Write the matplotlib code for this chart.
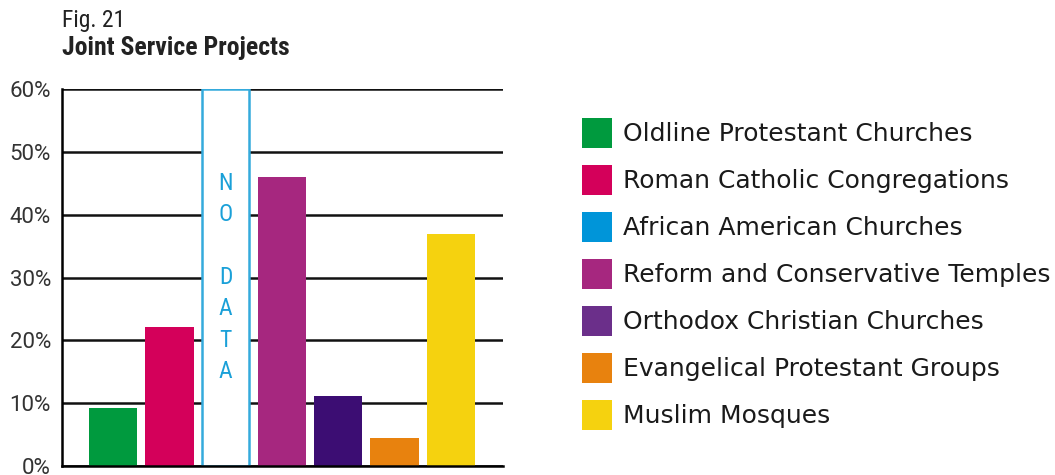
import matplotlib.pyplot as plt
from matplotlib.patches import Rectangle

groups = ['Oldline Protestant Churches', 'Roman Catholic Congregations',
          'African American Churches', 'Reform and Conservative Temples',
          'Orthodox Christian Churches', 'Evangelical Protestant Groups',
          'Muslim Mosques']
shares = [9.2, 22.2, None, 46.0, 11.2, 4.4, 37.0]   # percent, None = no data
bar_colors = ['#009a3e', '#d4005a', '#0095d9', '#a6277f', '#3c0d73', '#e8820e', '#f5d20f']
key_colors = ['#009a3e', '#d4005a', '#0095d9', '#a6277f', '#6b2f8a', '#e8820e', '#f5d20f']
yticks = [0, 10, 20, 30, 40, 50, 60]

narrow = ['Roboto Condensed', 'Liberation Sans Narrow', 'DejaVu Sans']
W, H = 1055, 475

fig = plt.figure(figsize=(W / 100, H / 100), dpi=100)
ax = fig.add_axes([62 / W, 1 - 466 / H, 441 / W, 377 / H])

for i, v in enumerate(shares):
    if v is None:
        # empty outlined column for the group with no data
        ax.bar(i, yticks[-1], width=0.84, facecolor='white', edgecolor='#34aadc',
               linewidth=1.8, zorder=3)
        y = 45
        for ch in 'NO DATA':
            if ch != ' ':
                ax.text(i, y, ch, ha='center', va='center', color='#1aa0d8',
                        fontsize=17, family=narrow, zorder=4)
            y -= 5
    else:
        ax.bar(i, v, width=0.86, color=bar_colors[i], zorder=3)

ax.set_xlim(-0.91, 6.93)
ax.set_ylim(0, 60)
ax.set_yticks(yticks)
ax.set_yticklabels([f'{t}%' for t in yticks], family=['Roboto', 'DejaVu Sans'],
                   fontsize=16, color='#333333')
ax.set_xticks([])
ax.tick_params(axis='y', length=0, pad=8)
ax.yaxis.grid(True, color='#111111', linewidth=1.8, zorder=1)
ax.set_axisbelow(True)
for s in ['top', 'right']:
    ax.spines[s].set_visible(False)
ax.spines['left'].set_linewidth(1.8)
ax.spines['bottom'].set_linewidth(1.8)
ax.spines['bottom'].set_zorder(5)

fig.text(62 / W, 1 - 27 / H, 'Fig. 21', family=narrow, fontsize=17,
         va='baseline', color='#222222')
fig.text(62 / W, 1 - 55 / H, 'Joint Service Projects', family=narrow, fontsize=18.5,
         weight='bold', va='baseline', color='#222222')

# key on the right
for k, (name, c) in enumerate(zip(groups, key_colors)):
    top = 118 + 47 * k
    fig.add_artist(Rectangle((582 / W, 1 - (top + 30) / H), 30 / W, 30 / H,
                             facecolor=c, edgecolor='none', transform=fig.transFigure))
    fig.text(623 / W, 1 - (top + 16) / H, name, va='center', fontsize=18,
             family='DejaVu Sans', color='#1a1a1a')

fig.savefig('out.png', dpi=100)
